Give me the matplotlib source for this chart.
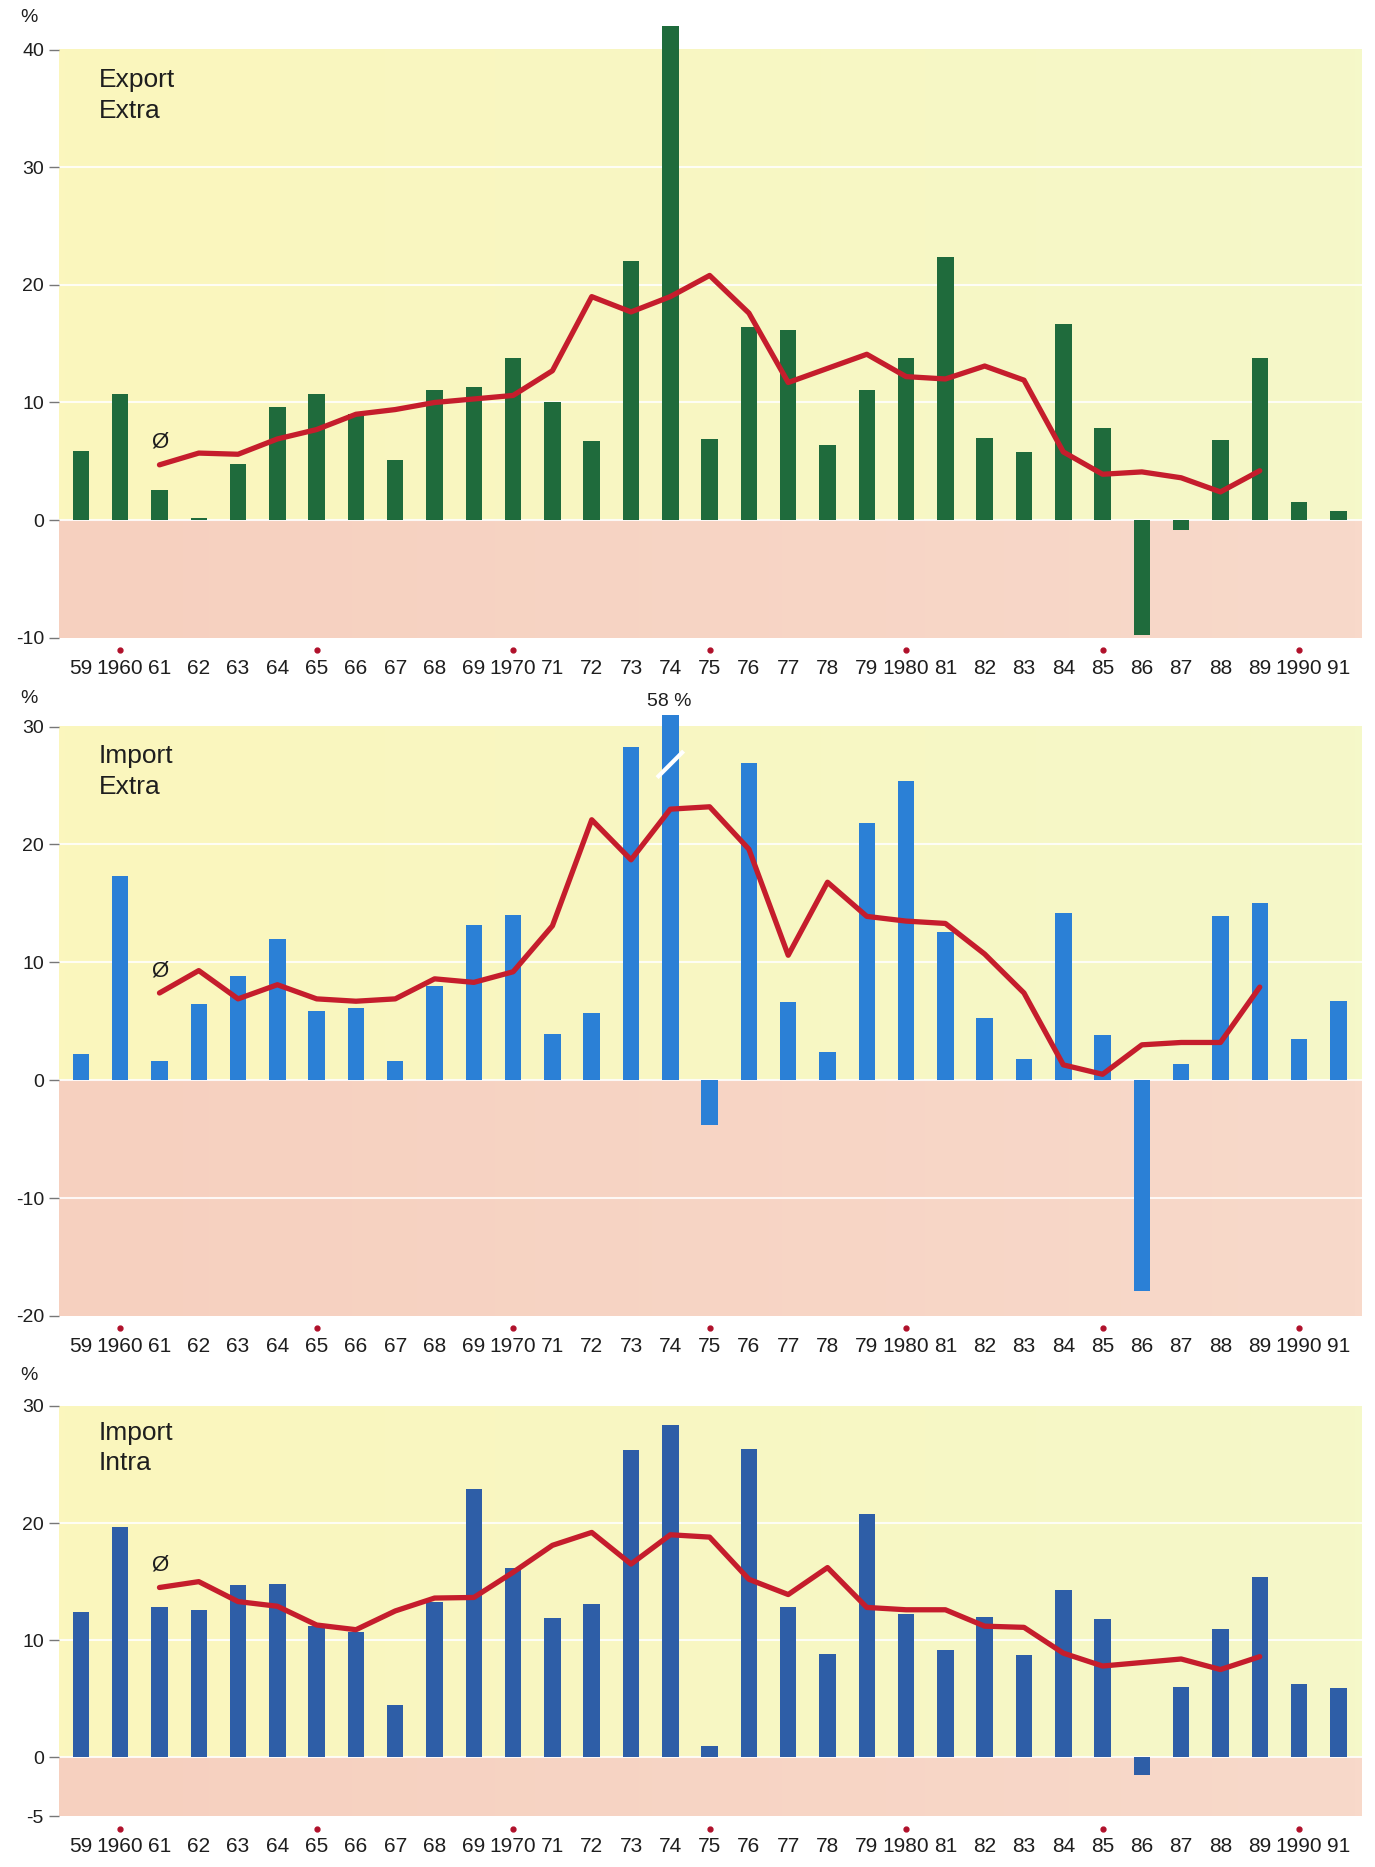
import numpy as np
import matplotlib
matplotlib.use('Agg')
import matplotlib.pyplot as plt
from matplotlib.colors import to_rgb
from matplotlib.transforms import offset_copy

plt.rcParams['font.family'] = ['Liberation Sans', 'DejaVu Sans']

# 資料（年增率 %）
years = list(range(1959, 1992))
year_labels = ['59', '1960', '61', '62', '63', '64', '65', '66', '67', '68',
               '69', '1970', '71', '72', '73', '74', '75', '76', '77', '78',
               '79', '1980', '81', '82', '83', '84', '85', '86', '87', '88',
               '89', '1990', '91']
dot_years = [1960, 1965, 1970, 1975, 1980, 1985, 1990]
avg_years = list(range(1961, 1990))

export_extra = [5.9, 10.75, 2.6, 0.2, 4.8, 9.6, 10.75, 9.0, 5.1, 11.1,
                11.3, 13.8, 10.0, 6.7, 22.0, 42.0, 6.9, 16.4, 16.2, 6.4,
                11.1, 13.8, 22.4, 7.0, 5.8, 16.7, 7.8, -9.8, -0.8, 6.8,
                13.8, 1.5, 0.8]
export_extra_avg = [4.7, 5.7, 5.6, 6.9, 7.7, 9.0, 9.4, 10.0, 10.3, 10.6,
                    12.7, 19.0, 17.7, 19.0, 20.8, 17.6, 11.7, 12.9, 14.1, 12.2,
                    12.0, 13.1, 11.9, 5.8, 3.9, 4.1, 3.6, 2.4, 4.2]

import_extra = [2.2, 17.3, 1.6, 6.5, 8.8, 12.0, 5.9, 6.1, 1.6, 8.0,
                13.2, 14.0, 3.9, 5.7, 28.3, 58.0, -3.8, 26.9, 6.6, 2.4,
                21.8, 25.4, 12.6, 5.3, 1.8, 14.2, 3.8, -17.9, 1.4, 13.9,
                15.0, 3.5, 6.7]
import_extra_avg = [7.4, 9.3, 6.9, 8.1, 6.9, 6.7, 6.9, 8.6, 8.3, 9.2,
                    13.1, 22.1, 18.7, 23.0, 23.2, 19.6, 10.6, 16.8, 13.9, 13.5,
                    13.3, 10.7, 7.4, 1.3, 0.5, 3.0, 3.2, 3.2, 7.9]

import_intra = [12.45, 19.7, 12.8, 12.6, 14.7, 14.8, 11.2, 10.7, 4.5, 13.3,
                22.9, 16.2, 11.9, 13.1, 26.2, 28.4, 1.0, 26.3, 12.8, 8.8,
                20.8, 12.2, 9.2, 12.0, 8.7, 14.3, 11.8, -1.5, 6.0, 11.0,
                15.4, 6.3, 5.9]
import_intra_avg = [14.5, 15.0, 13.3, 12.9, 11.3, 10.9, 12.5, 13.6, 13.65, 15.8,
                    18.1, 19.2, 16.5, 19.0, 18.8, 15.2, 13.9, 16.2, 12.8, 12.6,
                    12.6, 11.2, 11.1, 8.9, 7.8, 8.1, 8.4, 7.5, 8.6]

# 顏色
YELLOW_L, YELLOW_R = '#fbf6bd', '#f5f8c9'
PINK_L, PINK_R = '#f6d0bf', '#f8d9ca'
RED = '#c51d2c'
TEXT = '#1e1e1e'
XLIM = (1958.45, 1991.6)


def gradient(c1, c2, n=200):
    a, b = np.array(to_rgb(c1)), np.array(to_rgb(c2))
    t = np.linspace(0, 1, n)[:, None]
    return (a * (1 - t) + b * t)[None, :, :]


def draw_panel(fig, rect, bars, avg, color, ylim, ytop, yticks):
    ax = fig.add_axes(rect)
    # 背景：正值黃色、負值粉紅
    ax.imshow(gradient(YELLOW_L, YELLOW_R), extent=(XLIM[0], XLIM[1], 0, ytop),
              aspect='auto', zorder=0)
    ax.imshow(gradient(PINK_L, PINK_R), extent=(XLIM[0], XLIM[1], ylim[0], 0),
              aspect='auto', zorder=0)
    for t in yticks:
        if ylim[0] < t < ytop:
            ax.axhline(t, color='white', lw=1.5, alpha=0.85, zorder=1)

    ax.bar(years, bars, width=0.42, color=color, zorder=2)
    ax.plot(avg_years, avg, color=RED, lw=3.8, solid_capstyle='round',
            solid_joinstyle='round', zorder=3)
    ax.text(1961, avg[0] + 1.9, 'Ø', ha='center', va='center', fontsize=16,
            color=TEXT, zorder=4)

    ax.set_xlim(*XLIM)
    ax.set_ylim(*ylim)
    for s in ax.spines.values():
        s.set_visible(False)
    ax.set_yticks(yticks)
    ax.set_yticklabels([str(t) for t in yticks], fontsize=14, color=TEXT)
    ax.tick_params(axis='y', length=7, width=1, color='#777777', pad=4)
    ax.set_xticks(years)
    ax.set_xticklabels(year_labels, fontsize=15, color=TEXT)
    ax.tick_params(axis='x', length=0, pad=15)

    # 每五年的紅點
    trans = offset_copy(ax.get_xaxis_transform(), fig=fig, y=-9, units='points')
    ax.plot(dot_years, [0] * len(dot_years), 'o', ms=3.5, color='#b0102a',
            transform=trans, clip_on=False)
    return ax


fig = plt.figure(figsize=(13.75, 18.67), dpi=100)
fig.patch.set_facecolor('white')

ax1 = draw_panel(fig, [0.0431, 0.6584, 0.9474, 0.3289], export_extra, export_extra_avg,
                 '#1f6b3c', (-10, 42.2), 40, [-10, 0, 10, 20, 30, 40])
ax2 = draw_panel(fig, [0.0431, 0.2952, 0.9474, 0.3219], import_extra, import_extra_avg,
                 '#2b80d6', (-20, 31), 30, [-20, -10, 0, 10, 20, 30])
ax3 = draw_panel(fig, [0.0431, 0.0273, 0.9474, 0.2197], import_intra, import_intra_avg,
                 '#2e5ea7', (-5, 30), 30, [-5, 0, 10, 20, 30])

# 標題文字
for y, title in [(0.9635, 'Export\nExtra'), (0.6015, 'Import\nExtra'), (0.239, 'Import\nIntra')]:
    fig.text(0.0716, y, title, fontsize=19, va='top', linespacing=1.35, color=TEXT)

# 百分比單位
for y in [0.9905, 0.626, 0.2635]:
    fig.text(0.0207, y, '%', fontsize=14, ha='center', va='center', color=TEXT)

# 1974 年進口 58% 截斷標示
ax2.plot([1974 - 0.3, 1974 + 0.3], [25.8, 27.8], color='white', lw=3, zorder=4)
fig.text(0.487, 0.6245, '58 %', ha='center', va='center', fontsize=14, color=TEXT)

fig.savefig('out.png', dpi=100, facecolor='white')
